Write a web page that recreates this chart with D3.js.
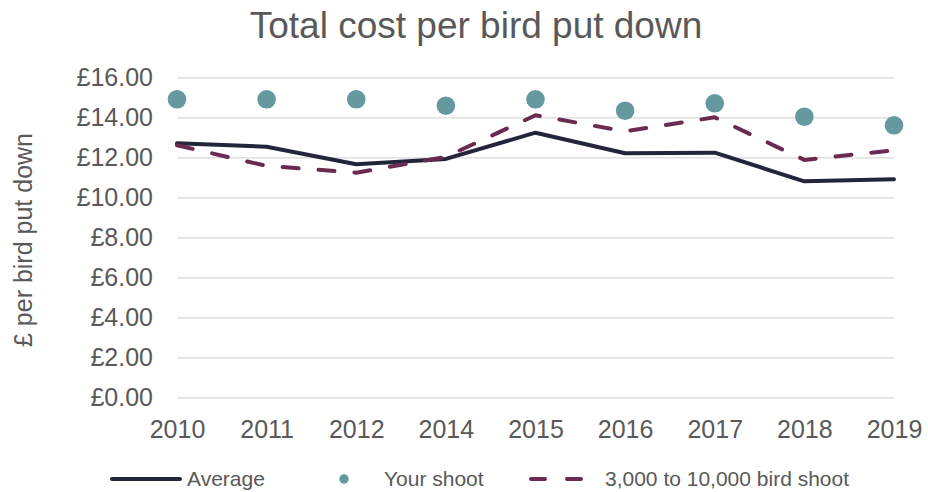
<!DOCTYPE html>
<html>
<head>
<meta charset="utf-8">
<script src="https://cdn.jsdelivr.net/npm/d3@7"></script>
<style>
  html, body { margin: 0; padding: 0; background: #fff; }
  svg { display: block; font-family: "Liberation Sans", Arial, sans-serif; }
</style>
</head>
<body>
<svg id="chart" width="928" height="492"></svg>
<script>
// ---- Data ----
const years = ["2010", "2011", "2012", "2014", "2015", "2016", "2017", "2018", "2019"];
const average = [12.7, 12.53, 11.65, 11.92, 13.23, 12.2, 12.23, 10.8, 10.9];
const yourShoot = [14.9, 14.9, 14.9, 14.58, 14.9, 14.33, 14.7, 14.03, 13.6];
const bandShoot = [12.6, 11.57, 11.23, 12.02, 14.1, 13.3, 14.0, 11.87, 12.35];
const yTicks = [0, 2, 4, 6, 8, 10, 12, 14, 16];

const TEXT = "#595959";
const C_AVG = "#23263a";
const C_YOU = "#64999f";
const C_BAND = "#6b2a50";

const svg = d3.select("#chart");

const x = d3.scalePoint().domain(years).range([177, 894]).padding(0);
const y = d3.scaleLinear().domain([0, 16]).range([397.3, 77.3]);

// ---- Title ----
svg.append("text")
  .attr("x", 476).attr("y", 38)
  .attr("text-anchor", "middle")
  .style("font-size", "37px")
  .style("fill", TEXT)
  .text("Total cost per bird put down");

// ---- Gridlines + y axis ----
const yAxis = d3.axisLeft(y)
  .tickValues(yTicks)
  .tickFormat(d => "£" + d3.format(".2f")(d))
  .tickSize(-(894 - 177))
  .tickPadding(24);

const gy = svg.append("g")
  .attr("transform", "translate(177,0)")
  .call(yAxis);
gy.select(".domain").remove();
gy.selectAll(".tick line").attr("stroke", "#d9d9d9").attr("stroke-width", 1.3);
gy.selectAll(".tick text")
  .style("font-size", "25px")
  .style("fill", TEXT)
  .attr("font-family", null);

// ---- x axis labels ----
const xAxis = d3.axisBottom(x).tickSize(0).tickPadding(23);
const gx = svg.append("g")
  .attr("transform", `translate(0,${y(0)})`)
  .call(xAxis);
gx.select(".domain").remove();
gx.selectAll(".tick text")
  .style("font-size", "25px")
  .style("fill", TEXT)
  .attr("font-family", null);

// ---- y axis title ----
svg.append("text")
  .attr("transform", "translate(32,240) rotate(-90)")
  .attr("text-anchor", "middle")
  .style("font-size", "25px")
  .style("fill", TEXT)
  .text("£ per bird put down");

// ---- Series ----
const line = d3.line()
  .x((d, i) => x(years[i]))
  .y(d => y(d));

svg.append("path")
  .datum(average)
  .attr("d", line)
  .attr("fill", "none")
  .attr("stroke", C_AVG)
  .attr("stroke-width", 4)
  .attr("stroke-linejoin", "round")
  .attr("stroke-linecap", "round");

svg.append("path")
  .datum(bandShoot)
  .attr("d", line)
  .attr("fill", "none")
  .attr("stroke", C_BAND)
  .attr("stroke-width", 4)
  .attr("stroke-dasharray", "16,20")
  .attr("stroke-linejoin", "round")
  .attr("stroke-linecap", "round");

svg.append("g")
  .selectAll("circle")
  .data(yourShoot)
  .join("circle")
  .attr("cx", (d, i) => x(years[i]))
  .attr("cy", d => y(d))
  .attr("r", 9.3)
  .attr("fill", C_YOU);

// ---- Legend ----
const leg = svg.append("g").attr("transform", "translate(0,479)");
leg.append("line")
  .attr("x1", 112).attr("x2", 180).attr("y1", 0).attr("y2", 0)
  .attr("stroke", C_AVG).attr("stroke-width", 4).attr("stroke-linecap", "round");
leg.append("text").attr("x", 187).attr("dy", "0.35em")
  .style("font-size", "21px").style("fill", TEXT).text("Average");

leg.append("circle").attr("cx", 344).attr("cy", 0).attr("r", 4.7).attr("fill", C_YOU);
leg.append("text").attr("x", 384).attr("dy", "0.35em")
  .style("font-size", "21px").style("fill", TEXT).text("Your shoot");

leg.append("line")
  .attr("x1", 531).attr("x2", 587).attr("y1", 0).attr("y2", 0)
  .attr("stroke", C_BAND).attr("stroke-width", 4).attr("stroke-linecap", "round")
  .attr("stroke-dasharray", "14,22");
leg.append("text").attr("x", 605).attr("dy", "0.35em")
  .style("font-size", "21px").style("fill", TEXT).text("3,000 to 10,000 bird shoot");
</script>
</body>
</html>
